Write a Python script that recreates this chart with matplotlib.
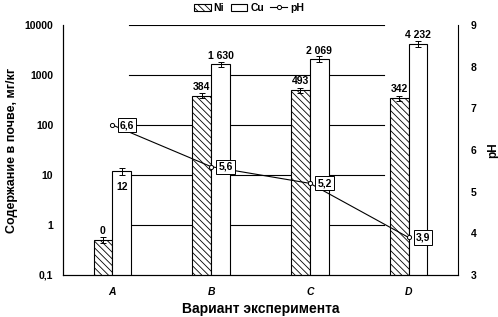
import matplotlib
matplotlib.use('Agg')
import matplotlib.pyplot as plt
import matplotlib.ticker as mticker
import numpy as np

plt.rcParams['font.family'] = ['Liberation Sans', 'DejaVu Sans']
plt.rcParams['hatch.linewidth'] = 0.6

# данные
variants = ['A', 'B', 'C', 'D']
ni = [0.5, 384, 493, 342]
ni_err = [0.07, 45, 50, 40]
ni_labels = ['0', '384', '493', '342']
cu = [12, 1630, 2069, 4232]
cu_err = [2, 180, 280, 550]
cu_labels = ['12', '1 630', '2 069', '4 232']
ph = [6.6, 5.6, 5.2, 3.9]
ph_labels = ['6,6', '5,6', '5,2', '3,9']
log_ticks = [0.1, 1, 10, 100, 1000, 10000]
log_tick_labels = ['0,1', '1', '10', '100', '1000', '10000']
ph_ticks = [3, 4, 5, 6, 7, 8, 9]

fig = plt.figure(figsize=(4.98, 3.17), dpi=100)
ax = fig.add_axes([0.1265, 0.1325, 0.7932, 0.7886])

x = np.arange(len(variants))
w = 0.19

# линии сетки (только в средней части, как в оригинале)
for v in log_ticks[1:]:
    ax.axhline(v, xmin=0.167, xmax=0.813, color='black', lw=0.8, zorder=0)

ax.bar(x - w / 2, ni, w, yerr=ni_err, color='white', edgecolor='black', hatch='\\\\\\\\\\',
       lw=0.8, label='Ni', zorder=2,
       error_kw=dict(elinewidth=0.7, capsize=2, capthick=0.7, ecolor='black'))
ax.bar(x + w / 2, cu, w, yerr=cu_err, color='white', edgecolor='black',
       lw=0.8, label='Cu', zorder=2,
       error_kw=dict(elinewidth=0.7, capsize=2, capthick=0.7, ecolor='black'))

# подписи значений
for i in range(len(variants)):
    ax.annotate(ni_labels[i], (x[i] - w / 2, ni[i]), xytext=(0, 6.5), textcoords='offset points',
                ha='center', va='center', fontsize=7.5, fontweight='bold', zorder=5)
    dy = -11.5 if i == 0 else 6
    ax.annotate(cu_labels[i], (x[i] + w / 2, cu[i]), xytext=(0, dy), textcoords='offset points',
                ha='center', va='center', fontsize=7.5, fontweight='bold', zorder=5)

ax.set_yscale('log')
ax.set_ylim(0.1, 10000)
ax.set_xlim(-0.5, 3.5)
ax.yaxis.set_major_locator(mticker.FixedLocator(log_ticks))
ax.yaxis.set_major_formatter(mticker.FixedFormatter(log_tick_labels))
ax.yaxis.set_minor_locator(mticker.NullLocator())
ax.set_xticks(x)
ax.set_xticklabels(variants, fontstyle='italic', fontweight='bold')
ax.tick_params(axis='both', length=0, labelsize=7.5)
ax.tick_params(axis='y', pad=7)
ax.tick_params(axis='x', pad=9)
for t in ax.get_yticklabels():
    t.set_fontweight('bold')
ax.spines['top'].set_visible(False)
ax.spines['right'].set_visible(False)
ax.set_ylabel('Содержание в почве, мг/кг', fontsize=9, fontweight='bold', labelpad=5)
ax.set_xlabel('Вариант эксперимента', fontsize=10, fontweight='bold', labelpad=3)

# pH на правой оси
ax2 = ax.twinx()
ax2.plot(x, ph, color='black', lw=0.8, marker='o', ms=3, mfc='white', mec='black', mew=0.7,
         label='pH', zorder=3)
for i in range(len(variants)):
    ax2.annotate(ph_labels[i], (x[i], ph[i]), xytext=(10.5, 0), textcoords='offset points',
                 ha='center', va='center', fontsize=7.5, fontweight='bold',
                 bbox=dict(boxstyle='square,pad=0.2', fc='white', ec='black', lw=0.7))
ax2.set_ylim(3, 9)
ax2.set_yticks(ph_ticks)
ax2.tick_params(axis='y', length=0, labelsize=7.5, pad=9)
for t in ax2.get_yticklabels():
    t.set_fontweight('bold')
ax2.spines['top'].set_visible(False)
ax2.set_ylabel('pH', fontsize=8.5, fontweight='bold', labelpad=8)

# легенда
h1, l1 = ax.get_legend_handles_labels()
h2, l2 = ax2.get_legend_handles_labels()
leg = fig.legend(h1 + h2, l1 + l2, loc='center', bbox_to_anchor=(0.5, 0.975), ncol=3,
                 frameon=False, fontsize=7.5, handlelength=1.6, handleheight=0.6,
                 columnspacing=0.6, handletextpad=0.3, borderpad=0)
for t in leg.get_texts():
    t.set_fontweight('bold')

fig.savefig('out.png', dpi=100)
